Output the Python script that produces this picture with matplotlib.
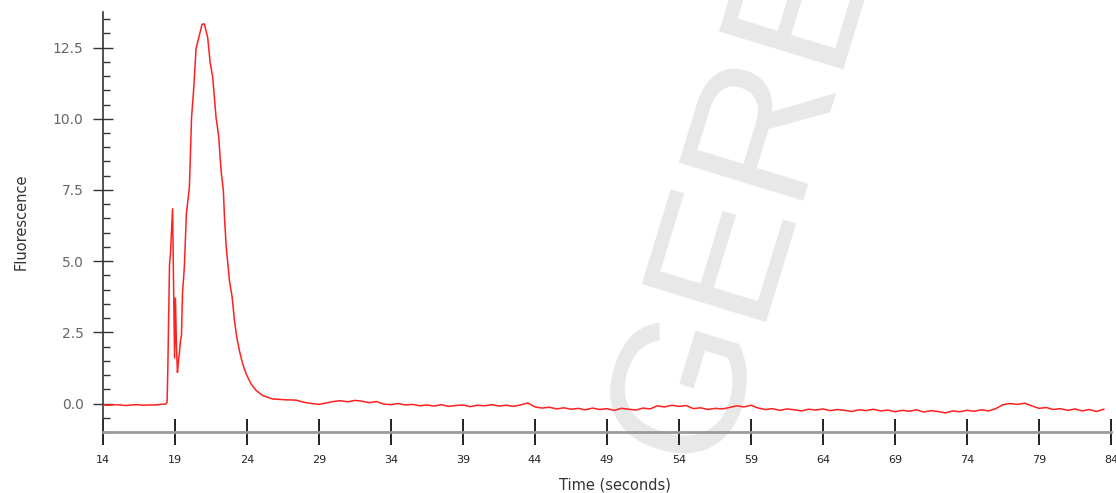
import numpy as np
import matplotlib.pyplot as plt
from matplotlib.ticker import MultipleLocator

# ── trace: baseline, double spike, main peak, decay ──────────────────────────
peak_t = [14.0, 14.4, 14.8, 15.2, 15.6, 16.0, 16.4, 16.8, 17.2, 17.6, 18.0, 18.35,
          18.45, 18.50, 18.62, 18.68, 18.83, 18.93, 18.97, 19.03, 19.10, 19.17,
          19.24, 19.31, 19.38, 19.45, 19.52, 19.65, 19.79, 20.00, 20.15, 20.30,
          20.46, 20.65, 20.88, 21.04, 21.27, 21.44, 21.62, 21.85, 22.03, 22.20,
          22.36, 22.44, 22.56, 22.78, 22.97, 23.13, 23.29, 23.47, 23.70, 23.94,
          24.28, 24.63, 25.09, 25.78, 26.71, 27.40, 28.0]
peak_v = [-0.05, -0.06, -0.04, -0.05, -0.07, -0.05, -0.04, -0.06, -0.05, -0.05, -0.03, -0.02,
          0.05, 1.16, 4.90, 5.20, 6.84, 3.00, 1.60, 3.70, 2.00, 1.09,
          1.50, 1.80, 2.20, 2.40, 3.86, 4.80, 6.66, 7.60, 10.05, 11.05,
          12.46, 12.85, 13.32, 13.33, 12.85, 11.98, 11.45, 10.05, 9.40, 8.18,
          7.47, 6.50, 5.48, 4.32, 3.73, 2.91, 2.33, 1.86, 1.39, 1.04,
          0.69, 0.46, 0.28, 0.16, 0.13, 0.12, 0.04]

# ── noisy tail, every 0.5 s ──────────────────────────────────────────────────
tail_t = [28.5, 29.0, 29.5, 30.0, 30.5, 31.0, 31.5, 32.0, 32.5, 33.0, 33.5, 34.0,
          34.5, 35.0, 35.5, 36.0, 36.5, 37.0, 37.5, 38.0, 38.5, 39.0, 39.5, 40.0,
          40.5, 41.0, 41.5, 42.0, 42.5, 43.0, 43.5, 44.0, 44.5, 45.0, 45.5, 46.0,
          46.5, 47.0, 47.5, 48.0, 48.5, 49.0, 49.5, 50.0, 50.5, 51.0, 51.5, 52.0,
          52.5, 53.0, 53.5, 54.0, 54.5, 55.0, 55.5, 56.0, 56.5, 57.0, 57.5, 58.0,
          58.5, 59.0, 59.5, 60.0, 60.5, 61.0, 61.5, 62.0, 62.5, 63.0, 63.5, 64.0,
          64.5, 65.0, 65.5, 66.0, 66.5, 67.0, 67.5, 68.0, 68.5, 69.0, 69.5, 70.0,
          70.5, 71.0, 71.5, 72.0, 72.5, 73.0, 73.5, 74.0, 74.5, 75.0, 75.5, 76.0,
          76.5, 77.0, 77.5, 78.0, 78.5, 79.0, 79.5, 80.0, 80.5, 81.0, 81.5, 82.0,
          82.5, 83.0, 83.5]
tail_v = [0.00, -0.03, 0.02, 0.07, 0.10, 0.06, 0.11, 0.08, 0.03, 0.07, -0.02, -0.04,
          0.00, -0.05, -0.03, -0.08, -0.05, -0.09, -0.04, -0.10, -0.07, -0.05, -0.11, -0.06,
          -0.08, -0.04, -0.09, -0.06, -0.10, -0.05, 0.02, -0.12, -0.16, -0.13, -0.19, -0.15,
          -0.20, -0.17, -0.22, -0.16, -0.21, -0.18, -0.24, -0.17, -0.20, -0.23, -0.16, -0.19,
          -0.08, -0.12, -0.06, -0.10, -0.07, -0.18, -0.15, -0.21, -0.17, -0.19, -0.14, -0.08,
          -0.12, -0.06, -0.16, -0.21, -0.18, -0.24, -0.19, -0.22, -0.26, -0.20, -0.23, -0.19,
          -0.25, -0.21, -0.24, -0.28, -0.22, -0.25, -0.20, -0.26, -0.23, -0.29, -0.24, -0.27,
          -0.22, -0.30, -0.25, -0.28, -0.33, -0.26, -0.29, -0.24, -0.27, -0.22, -0.26, -0.18,
          -0.04, 0.00, -0.03, 0.01, -0.08, -0.17, -0.14, -0.21, -0.18, -0.24, -0.19, -0.26,
          -0.21, -0.28, -0.20]

time_s = peak_t + tail_t
fluor = peak_v + tail_v

xticks = [14, 19, 24, 29, 34, 39, 44, 49, 54, 59, 64, 69, 74, 79, 84]
yticks = [0.0, 2.5, 5.0, 7.5, 10.0, 12.5]

fig = plt.figure(figsize=(11.16, 4.93), dpi=100)
ax = fig.add_axes([103 / 1116, 1 - 432 / 493, 1008 / 1116, 420 / 493])
ax.patch.set_visible(False)

# watermark behind everything
ax.text(712 / 1116, 1 - 468 / 493, "GERE", transform=fig.transFigure,
        rotation=73, rotation_mode="anchor", ha="left", va="baseline",
        fontsize=137, family="Liberation Sans", color="#e8e8e8",
        zorder=0, clip_on=False)

ax.plot(time_s, fluor, color="#ff2020", linewidth=1.1, zorder=3)

ax.set_xlim(14, 84)
ax.set_ylim(-1.0, 13.75)

for side in ["top", "right"]:
    ax.spines[side].set_visible(False)
ax.spines["left"].set_color("#333333")
ax.spines["left"].set_linewidth(1.2)
ax.spines["bottom"].set_color("#9a9a9a")
ax.spines["bottom"].set_linewidth(2.0)

ax.set_xticks(xticks)
ax.set_xticklabels([str(x) for x in xticks])
ax.set_yticks(yticks)
ax.set_yticklabels([f"{y:.1f}" for y in yticks])
ax.yaxis.set_minor_locator(MultipleLocator(0.5))

ax.tick_params(axis="x", direction="inout", length=19, width=1.4, color="#222222",
               labelsize=8, labelcolor="#222222", pad=7)
ax.tick_params(axis="y", which="major", direction="inout", length=14, width=1.0,
               color="#333333", labelsize=10, labelcolor="#666666", pad=7)
ax.tick_params(axis="y", which="minor", direction="in", length=5, width=1.0,
               color="#333333")

ax.set_xlabel("Time (seconds)", fontsize=10.5, color="#333333")
ax.set_ylabel("Fluorescence", fontsize=10.5, color="#333333")
ax.xaxis.set_label_coords((615 - 103) / 1008, (432 - 478) / 420)
ax.yaxis.set_label_coords((29 - 103) / 1008, 0.5)

fig.savefig("out.png", dpi=100)
